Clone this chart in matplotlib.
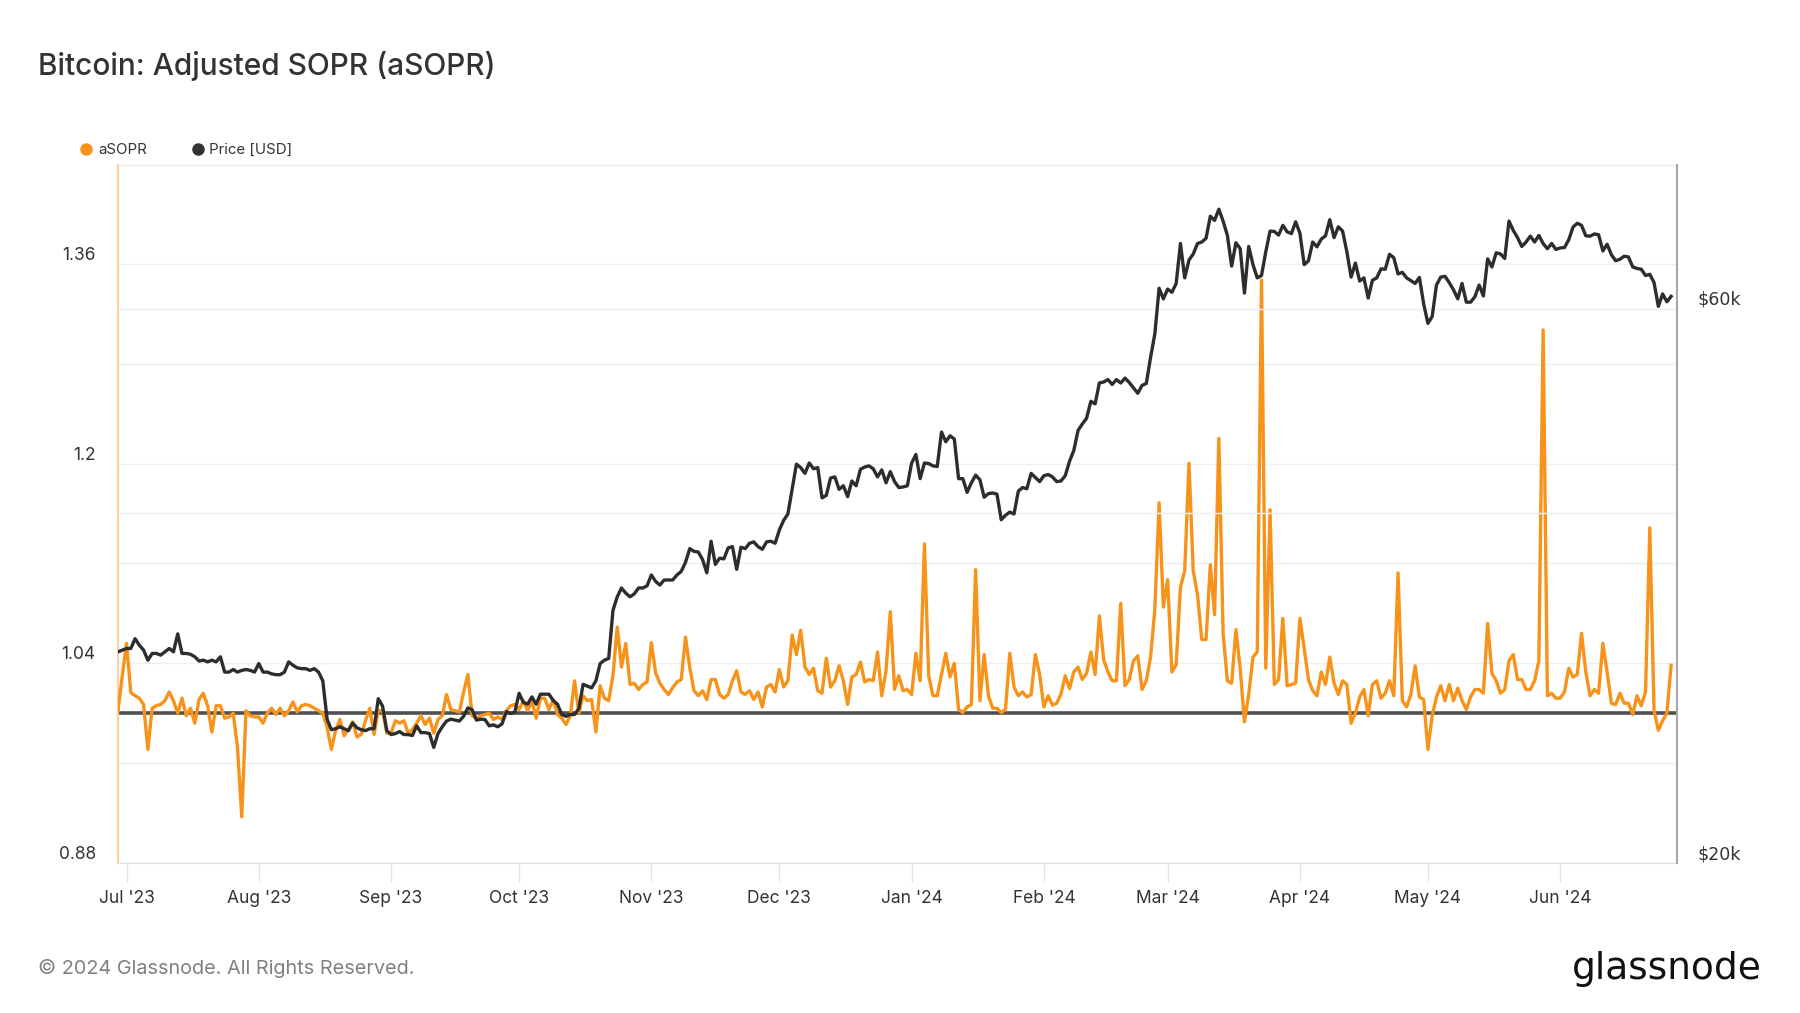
import numpy as np
import pandas as pd
import matplotlib
matplotlib.use('Agg')
import matplotlib.pyplot as plt
import matplotlib.dates as mdates
from matplotlib.lines import Line2D
from matplotlib.ticker import NullLocator

plt.rcParams['font.family'] = ['Inter', 'DejaVu Sans']

start_date = '2023-06-29'

# BTC daily price, $k (Jun 29 2023 .. Jun 27 2024)
price_jun23 = [30.4, 30.5]
price_jul23 = [30.6, 30.6, 31.2, 30.8, 30.5, 29.9, 30.3, 30.3, 30.2, 30.4, 30.6, 30.4, 31.5, 30.3, 30.3, 30.25,
               30.1, 29.85, 29.9, 29.8, 29.9, 29.8, 30.1, 29.2, 29.2, 29.35, 29.2, 29.3, 29.35, 29.3, 29.2]
price_aug23 = [29.7, 29.2, 29.2, 29.1, 29.05, 29.05, 29.2, 29.8, 29.6, 29.45, 29.4, 29.4, 29.3, 29.4, 29.2, 28.7,
               26.6, 26.05, 26.1, 26.2, 26.1, 26.0, 26.4, 26.15, 26.05, 26.0, 26.1, 26.1, 27.7, 27.3, 26.0]
price_sep23 = [25.8, 25.85, 25.95, 25.8, 25.8, 25.75, 26.25, 25.9, 25.9, 25.85, 25.15, 25.85, 26.2, 26.5, 26.6,
               26.55, 26.5, 26.75, 27.2, 27.1, 26.55, 26.6, 26.58, 26.25, 26.3, 26.2, 26.35, 27.0, 26.9, 26.97]
price_oct23 = [28.0, 27.5, 27.4, 27.8, 27.4, 27.95, 27.95, 27.95, 27.6, 27.4, 26.85, 26.75, 26.85, 26.85, 27.15,
               28.5, 28.4, 28.3, 28.7, 29.7, 29.9, 30.0, 33.0, 33.9, 34.5, 34.15, 33.9, 34.1, 34.5, 34.5, 34.65]
price_nov23 = [35.4, 34.95, 34.7, 35.05, 35.05, 35.05, 35.4, 35.65, 36.3, 37.3, 37.1, 37.05, 36.5, 35.55, 37.85,
               36.15, 36.6, 36.55, 37.35, 37.45, 35.8, 37.4, 37.3, 37.7, 37.8, 37.45, 37.25, 37.8, 37.85, 37.7]
price_dec23 = [38.7, 39.45, 39.95, 41.95, 44.1, 43.8, 43.3, 44.2, 43.7, 43.8, 41.25, 41.45, 42.9, 43.0, 41.95,
               42.25, 41.35, 42.65, 42.25, 43.65, 43.85, 43.95, 43.7, 43.0, 43.6, 42.5, 43.45, 42.6, 42.1, 42.15, 42.25]
price_jan24 = [44.2, 44.95, 42.85, 44.2, 44.15, 43.95, 43.9, 47.0, 46.1, 46.65, 46.35, 42.85, 42.85, 41.7, 42.5,
               43.15, 42.75, 41.3, 41.6, 41.65, 41.55, 39.5, 39.85, 40.1, 39.95, 41.8, 42.1, 42.0, 43.3, 42.95, 42.6]
price_feb24 = [43.1, 43.2, 43.0, 42.6, 42.65, 43.1, 44.35, 45.3, 47.15, 47.75, 48.3, 49.95, 49.7, 51.8, 51.9,
               52.15, 51.65, 52.15, 51.8, 52.3, 51.85, 51.3, 50.75, 51.55, 51.75, 54.5, 57.1, 62.5, 61.2]
price_mar24 = [62.4, 62.0, 63.1, 68.3, 63.8, 66.1, 66.9, 68.3, 68.5, 69.0, 72.1, 71.5, 73.1, 71.4, 69.4, 65.3,
               68.4, 67.6, 61.9, 67.9, 65.5, 63.8, 64.1, 67.2, 70.0, 69.95, 69.45, 70.8, 69.9, 69.65, 71.3]
price_apr24 = [69.7, 65.5, 66.0, 68.5, 67.85, 68.9, 69.35, 71.6, 69.1, 70.6, 70.0, 67.2, 63.9, 65.7, 63.4, 63.8,
               61.3, 63.5, 63.8, 64.95, 64.9, 66.85, 66.4, 64.3, 64.5, 63.8, 63.45, 63.1, 63.85, 60.6]
price_may24 = [58.3, 59.1, 62.9, 63.9, 64.0, 63.2, 62.3, 61.2, 63.1, 60.8, 60.8, 61.45, 62.9, 61.55, 66.25, 65.2,
               67.05, 66.9, 66.3, 71.4, 70.1, 69.1, 67.9, 68.5, 69.3, 68.5, 69.4, 68.3, 67.6, 68.3, 67.5]
price_jun24 = [67.7, 67.75, 68.8, 70.55, 71.1, 70.8, 69.35, 69.3, 69.6, 69.5, 67.3, 68.2, 66.8, 66.0, 66.2, 66.6,
               66.5, 65.2, 65.0, 64.9, 64.1, 64.25, 63.2, 60.3, 61.8, 60.85, 61.5]

# aSOPR daily values, same dates
asopr_2023 = [1.002, 1.030, 1.056, 1.0165, 1.014, 1.012, 1.007, 0.971, 1.004, 1.006,
              1.007, 1.010, 1.017, 1.010, 1.000, 1.012, 0.998, 1.004, 0.992, 1.011,
              1.016, 1.006, 0.985, 1.006, 1.006, 0.996, 0.997, 1.000, 0.973, 0.917,
              1.002, 0.998, 0.997, 0.997, 0.992, 1.000, 1.004, 0.999, 1.004, 0.998,
              1.002, 1.009, 1.001, 1.006, 1.007, 1.006, 1.004, 1.002, 1.000, 0.989,
              0.971, 0.986, 0.995, 0.982, 0.987, 0.993, 0.981, 0.983, 0.994, 1.004,
              0.983, 1.002, 1.002, 0.984, 0.984, 0.994, 0.992, 0.994, 0.984, 0.987,
              0.992, 0.998, 0.991, 0.996, 0.984, 0.995, 0.998, 1.015, 1.003, 1.002,
              1.001, 1.017, 1.031, 0.998, 0.996, 0.998, 0.999, 1.000, 0.995, 0.997,
              0.995, 1.002, 1.006, 1.007, 1.003, 1.010, 1.002, 1.010, 0.996, 1.012,
              1.012, 1.003, 1.011, 0.999, 0.996, 0.991, 0.998, 1.026, 1.000, 1.014,
              1.010, 1.011, 0.985, 1.022, 1.012, 1.010, 1.030, 1.069, 1.037, 1.056,
              1.023, 1.024, 1.019, 1.023, 1.025, 1.0565, 1.0325, 1.024, 1.019, 1.015,
              1.0205, 1.025, 1.027, 1.061, 1.0365, 1.018, 1.014, 1.018, 1.011, 1.027,
              1.027, 1.015, 1.012, 1.015, 1.026, 1.034, 1.017, 1.015, 1.018, 1.011,
              1.017, 1.005, 1.021, 1.023, 1.017, 1.035, 1.021, 1.026, 1.0626, 1.047,
              1.0664, 1.037, 1.031, 1.036, 1.018, 1.016, 1.044, 1.021, 1.026, 1.038,
              1.026, 1.007, 1.029, 1.031, 1.041, 1.025]
asopr_2024 = [1.027, 1.026, 1.049, 1.014, 1.034, 1.0813, 1.019, 1.030, 1.018, 1.019,
              1.015, 1.048, 1.026, 1.1357, 1.030, 1.014, 1.014, 1.031, 1.048, 1.029,
              1.040, 1.003, 1.0005, 1.005, 1.007, 1.115, 1.010, 1.047, 1.014, 1.004,
              1.004, 1.0005, 1.003, 1.048, 1.021, 1.014, 1.017, 1.013, 1.015, 1.047,
              1.031, 1.005, 1.014, 1.0065, 1.008, 1.0154, 1.030, 1.0197, 1.033, 1.037,
              1.027, 1.032, 1.049, 1.031, 1.078, 1.043, 1.033, 1.026, 1.026, 1.088,
              1.022, 1.027, 1.042, 1.046, 1.019, 1.026, 1.045, 1.083, 1.1686, 1.085,
              1.107, 1.033, 1.039, 1.101, 1.114, 1.2003, 1.114, 1.095, 1.059, 1.059,
              1.119, 1.079, 1.2202, 1.064, 1.026, 1.024, 1.067, 1.036, 0.993, 1.015,
              1.045, 1.049, 1.347, 1.036, 1.163, 1.023, 1.027, 1.076, 1.022, 1.023,
              1.024, 1.076, 1.052, 1.027, 1.018, 1.014, 1.033, 1.023, 1.045, 1.024,
              1.015, 1.026, 1.023, 0.992, 1.000, 1.013, 1.019, 0.998, 1.023, 1.026,
              1.012, 1.016, 1.026, 1.014, 1.1124, 1.010, 1.005, 1.015, 1.038, 1.013,
              1.011, 0.971, 0.998, 1.013, 1.022, 1.010, 1.023, 1.010, 1.020, 1.010,
              1.003, 1.013, 1.019, 1.019, 1.016, 1.072, 1.032, 1.026, 1.016, 1.019,
              1.042, 1.047, 1.027, 1.027, 1.019, 1.019, 1.026, 1.042, 1.307, 1.014,
              1.016, 1.012, 1.012, 1.017, 1.036, 1.029, 1.031, 1.064, 1.033, 1.014,
              1.019, 1.016, 1.056, 1.033, 1.008, 1.007, 1.016, 1.008, 1.008, 0.999,
              1.014, 1.006, 1.017, 1.1485, 1.002, 0.9863, 0.994, 1.000, 1.0384]

price_k = (price_jun23 + price_jul23 + price_aug23 + price_sep23 + price_oct23 + price_nov23 + price_dec23
           + price_jan24 + price_feb24 + price_mar24 + price_apr24 + price_may24 + price_jun24)
asopr = asopr_2023 + asopr_2024

price_dates = pd.date_range(start_date, periods=len(price_k), freq='D')
asopr_dates = pd.date_range(start_date, periods=len(asopr), freq='D')
price_usd = np.array(price_k) * 1000

W, H = 1800, 1013
fig = plt.figure(figsize=(W / 100, H / 100), dpi=100)
ax = fig.add_axes([118 / W, 1 - 863 / H, (1677 - 118) / W, (863 - 165) / H])
ax2 = ax.twinx()

orange = '#f7931a'
dark = '#2d2d2d'

ax.axhline(1.0, color='#505050', lw=2.6, zorder=2)
ax.plot(asopr_dates, asopr, color=orange, lw=2.4, zorder=3, solid_joinstyle='round')
ax2.plot(price_dates, price_usd, color=dark, lw=2.4, solid_joinstyle='round')

# left axis (aSOPR)
ax.set_ylim(0.88, 1.4392)
left_ticks = [0.88, 0.96, 1.04, 1.12, 1.2, 1.28, 1.36]
left_labels = ['0.88', '', '1.04', '', '1.2', '', '1.36']
ax.set_yticks(left_ticks, labels=left_labels)
ax.grid(axis='y', color='#efefef', lw=1)
ax.tick_params(axis='y', length=0, pad=16, labelsize=12.5, labelcolor='#333333')
for lab in ax.get_yticklabels():
    lab.set_va('bottom')

# right axis (price, log)
ax2.set_yscale('log')
ax2.set_ylim(20000, 79800)
ax2.set_yticks([20000, 40000, 60000], labels=['$20k', '', '$60k'])
ax2.yaxis.set_minor_locator(NullLocator())
ax2.grid(axis='y', color='#efefef', lw=1)
ax2.tick_params(axis='y', which='both', length=0, pad=15, labelsize=12.5, labelcolor='#333333')
for lab in ax2.get_yticklabels():
    lab.set_va('bottom')
    lab.set_fontfamily('DejaVu Sans')

# x axis
ax.set_xlim(pd.Timestamp('2023-06-29'), pd.Timestamp('2024-06-28 09:00'))
ax.xaxis.set_major_locator(mdates.MonthLocator())
ax.xaxis.set_major_formatter(mdates.DateFormatter("%b '%y"))
ax.tick_params(axis='x', length=14, width=1, color='#e4e4e4', pad=5.5, labelsize=12.5, labelcolor='#333333')

# spines
ax.spines['right'].set_visible(False)
ax.spines['left'].set_color('#fcd0a0')
ax.spines['left'].set_linewidth(1.5)
ax.spines['top'].set_color('#ececec')
ax.spines['bottom'].set_color('#e0e0e0')
for s in ['left', 'top', 'bottom']:
    ax2.spines[s].set_visible(False)
ax2.spines['right'].set_color('#a8a8a8')
ax2.spines['right'].set_linewidth(1.5)

# title, legend, footer
fig.text(38 / W, 1 - 66 / H, 'Bitcoin: Adjusted SOPR (aSOPR)', fontsize=21.5, va='center',
         color='#333333', fontweight='medium')

fig.add_artist(Line2D([86 / W], [1 - 149 / H], transform=fig.transFigure, marker='o', ms=8,
                      color=orange, linestyle='none'))
fig.text(98 / W, 1 - 150 / H, 'aSOPR', fontsize=10.8, va='center', color='#333333')
fig.add_artist(Line2D([197.5 / W], [1 - 149 / H], transform=fig.transFigure, marker='o', ms=8,
                      color='#333333', linestyle='none'))
fig.text(209 / W, 1 - 150 / H, 'Price [USD]', fontsize=10.8, va='center', color='#333333')

fig.text(38 / W, 1 - 968 / H, '\u00a9 2024 Glassnode. All Rights Reserved.', fontsize=14.3, va='center',
         color='#808080')
fig.text(1762 / W, 1 - 969 / H, 'glassnode', fontsize=27, ha='right', va='center',
         family='DejaVu Sans', color='#111111')

fig.savefig('out.png', dpi=100)
